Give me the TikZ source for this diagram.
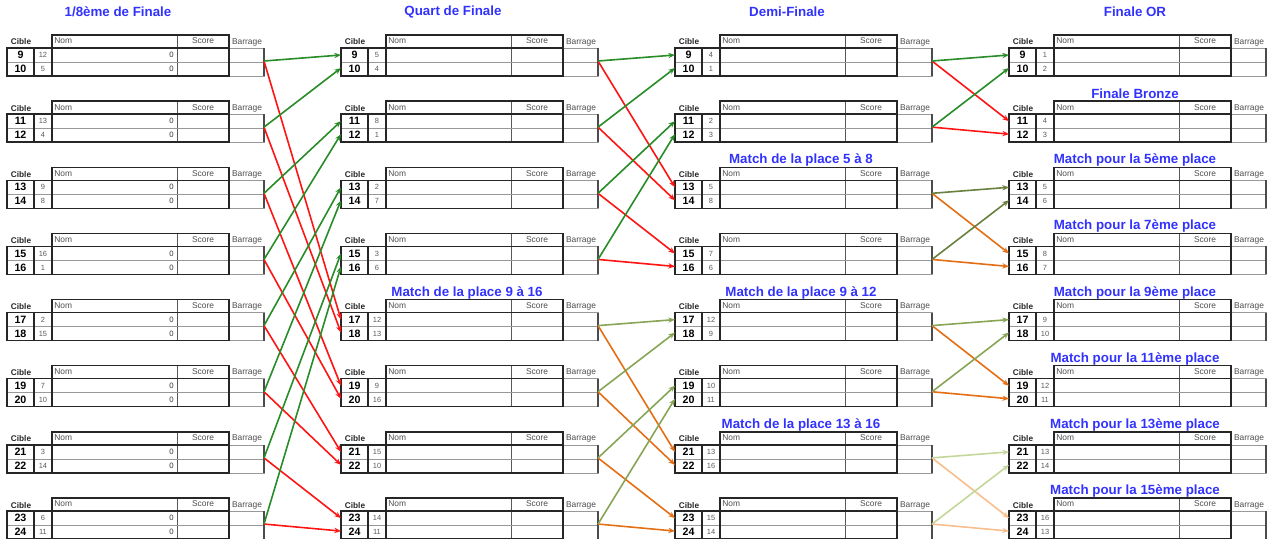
\documentclass[tikz,border=0pt]{standalone}
\usepackage{fontspec}
\setmainfont{Liberation Sans}
\usetikzlibrary{arrows.meta}
\definecolor{ttlblue}{RGB}{50,50,255}
\definecolor{cgreen}{RGB}{40,140,40}
\definecolor{cred}{RGB}{255,20,20}
\definecolor{colive}{RGB}{135,165,85}
\definecolor{cdolive}{RGB}{105,128,62}
\definecolor{corange}{RGB}{228,110,20}
\definecolor{clgreen}{RGB}{196,215,155}
\definecolor{clorange}{RGB}{248,190,140}
\tikzset{
  boxline/.style={line width=1.1pt,black!85},
  scoreline/.style={line width=0.6pt,black!65},
  rowline/.style={line width=0.6pt,black!40},
  barline/.style={line width=0.5pt,black!40},
  barright/.style={line width=0.8pt,black!70},
  cibhdr/.style={inner sep=0pt,font=\fontsize{6.2}{7}\selectfont\bfseries,text=black!85},
  hdr/.style={inner sep=0pt,font=\fontsize{6.3}{7}\selectfont,text=black!70},
  cibnum/.style={inner sep=0pt,font=\fontsize{8}{9}\selectfont\bfseries},
  seed/.style={inner sep=0pt,font=\fontsize{5.6}{6}\selectfont,text=black!65},
  zero/.style={inner sep=0pt,anchor=east,font=\fontsize{5.8}{6}\selectfont,text=black!80},
  ttl/.style={inner sep=0pt,font=\fontsize{10}{12}\selectfont\bfseries,text=ttlblue},
  conn/.style={line width=1.2pt,-{Stealth[length=5pt,width=4pt]}}
}
\newcommand{\drawmatch}[8]{%
\begin{scope}[shift={(#2,#3)}]
  \draw[scoreline] (170,-13) -- (170,28);
  \draw[rowline] (0,14) -- (257,14);
  \draw[barline] (222,0) rectangle (257,28);
  \draw[barright] (257,0) -- (257,28);
  \draw[boxline] (45,-13) rectangle (222,0);
  \draw[boxline] (0,0) rectangle (222,28);
  \draw[boxline] (27,0) -- (27,28) (45,0) -- (45,28);
  \node[cibhdr] (#1-h) at (14,-6) {Cible};
  \node[hdr,anchor=west] (#1-nom) at (47,-7) {Nom};
  \node[hdr] (#1-sc) at (196,-7) {Score};
  \node[hdr] (#1-bar) at (240,-6) {Barrage};
  \node[cibnum] (#1-c1) at (13.5,7) {#4};
  \node[cibnum] (#1-c2) at (13.5,21) {#5};
  \node[seed] (#1-s1) at (36,7) {#6};
  \node[seed] (#1-s2) at (36,21) {#7};
  \ifnum#8=1
    \node[zero] (#1-z1) at (167,7) {0};
    \node[zero] (#1-z2) at (167,21) {0};
  \fi
  \coordinate (#1-out) at (257,13);
  \coordinate (#1-in1) at (0,7);
  \coordinate (#1-in2) at (0,20);
\end{scope}}
\begin{document}
\begin{tikzpicture}[x=0.75pt,y=-0.75pt]
\useasboundingbox (0,0) rectangle (1271,539);
% column 1
\foreach \k/\sa/\sb in {0/12/5,1/13/4,2/9/8,3/16/1,4/2/15,5/7/10,6/3/14,7/6/11}{
  \pgfmathsetmacro\T{48+66.15*\k}
  \pgfmathtruncatemacro\ca{9+2*\k}
  \pgfmathtruncatemacro\cb{10+2*\k}
  \drawmatch{a\k}{7}{\T}{\ca}{\cb}{\sa}{\sb}{1}
}
% column 2
\foreach \k/\sa/\sb in {0/5/4,1/8/1,2/2/7,3/3/6,4/12/13,5/9/16,6/15/10,7/14/11}{
  \pgfmathsetmacro\T{48+66.15*\k}
  \pgfmathtruncatemacro\ca{9+2*\k}
  \pgfmathtruncatemacro\cb{10+2*\k}
  \drawmatch{b\k}{341}{\T}{\ca}{\cb}{\sa}{\sb}{0}
}
% column 3
\foreach \k/\sa/\sb in {0/4/1,1/2/3,2/5/8,3/7/6,4/12/9,5/10/11,6/13/16,7/15/14}{
  \pgfmathsetmacro\T{48+66.15*\k}
  \pgfmathtruncatemacro\ca{9+2*\k}
  \pgfmathtruncatemacro\cb{10+2*\k}
  \drawmatch{c\k}{675}{\T}{\ca}{\cb}{\sa}{\sb}{0}
}
% column 4
\foreach \k/\sa/\sb in {0/1/2,1/4/3,2/5/6,3/8/7,4/9/10,5/12/11,6/13/14,7/16/13}{
  \pgfmathsetmacro\T{48+66.15*\k}
  \pgfmathtruncatemacro\ca{9+2*\k}
  \pgfmathtruncatemacro\cb{10+2*\k}
  \drawmatch{d\k}{1009}{\T}{\ca}{\cb}{\sa}{\sb}{0}
}
% column titles
\node[ttl] (t1) at (118,12) {1/8ème de Finale};
\node[ttl] (t2) at (453,12) {Quart de Finale};
\node[ttl] (t3) at (787,12) {Demi-Finale};
\node[ttl] (t4) at (1135,12) {Finale OR};
% block titles
\node[ttl] (tb4) at (467,{48+66.15*4-20}) {Match de la place 9 à 16};
\node[ttl] (tc2) at (801,{48+66.15*2-20}) {Match de la place 5 à 8};
\node[ttl] (tc4) at (801,{48+66.15*4-20}) {Match de la place 9 à 12};
\node[ttl] (tc6) at (801,{48+66.15*6-20}) {Match de la place 13 à 16};
\node[ttl] (td1) at (1135,{48+66.15*1-20}) {Finale Bronze};
\node[ttl] (td2) at (1135,{48+66.15*2-20}) {Match pour la 5ème place};
\node[ttl] (td3) at (1135,{48+66.15*3-20}) {Match pour la 7ème place};
\node[ttl] (td4) at (1135,{48+66.15*4-20}) {Match pour la 9ème place};
\node[ttl] (td5) at (1135,{48+66.15*5-20}) {Match pour la 11ème place};
\node[ttl] (td6) at (1135,{48+66.15*6-20}) {Match pour la 13ème place};
\node[ttl] (td7) at (1135,{48+66.15*7-20}) {Match pour la 15ème place};
% connectors column 1 -> 2
\foreach \k in {0,...,7}{
  \pgfmathtruncatemacro\j{floor(\k/2)}
  \pgfmathtruncatemacro\jl{4+floor(\k/2)}
  \pgfmathtruncatemacro\r{mod(\k,2)+1}
  \draw[conn,cred] (a\k-out) -- (b\jl-in\r);
  \draw[conn,cgreen] (a\k-out) -- (b\j-in\r);
}
% connectors column 2 -> 3
\foreach \k/\w/\l/\r/\cw/\cl in {0/0/2/1/cgreen/cred,1/0/2/2/cgreen/cred,2/1/3/1/cgreen/cred,3/1/3/2/cgreen/cred,
  4/4/6/1/colive/corange,5/4/6/2/colive/corange,6/5/7/1/colive/corange,7/5/7/2/colive/corange}{
  \draw[conn,\cl] (b\k-out) -- (c\l-in\r);
  \draw[conn,\cw] (b\k-out) -- (c\w-in\r);
}
% connectors column 3 -> 4
\foreach \k/\w/\l/\r/\cw/\cl in {0/0/1/1/cgreen/cred,1/0/1/2/cgreen/cred,
  2/2/3/1/cdolive/corange,3/2/3/2/cdolive/corange,
  4/4/5/1/colive/corange,5/4/5/2/colive/corange,
  6/6/7/1/clgreen/clorange,7/6/7/2/clgreen/clorange}{
  \draw[conn,\cl] (c\k-out) -- (d\l-in\r);
  \draw[conn,\cw] (c\k-out) -- (d\w-in\r);
}
\end{tikzpicture}
\end{document}
